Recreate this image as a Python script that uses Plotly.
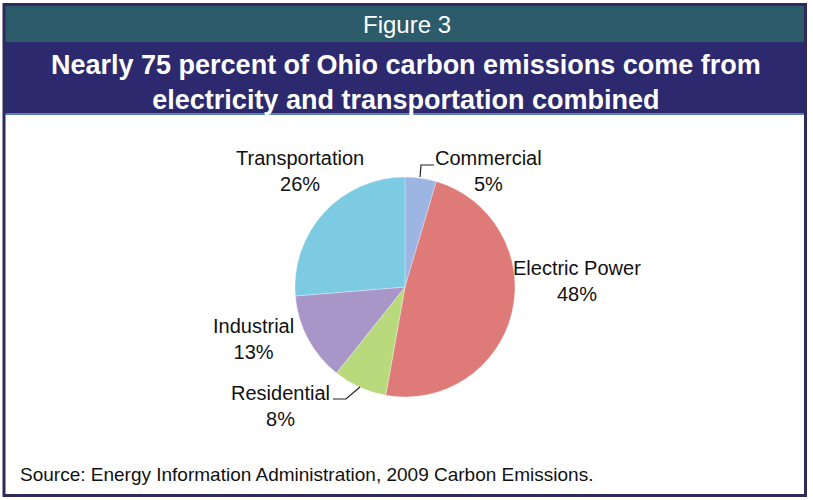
import plotly.graph_objects as go

W, H = 813, 500

categories = ["Commercial", "Electric Power", "Residential", "Industrial", "Transportation"]
values = [4.6, 48.2, 7.9, 13.0, 26.3]
colors = ["#9db5e2", "#de7b78", "#b9da7c", "#a996c9", "#7ccbe2"]

# label anchor positions (pixels) for the annotations
label_pos = {
    "Commercial": (489, 171),
    "Electric Power": (577, 281),
    "Residential": (280, 406),
    "Industrial": (253, 339),
    "Transportation": (300, 171),
}

title_fig = "Figure 3"
title_main = "Nearly 75 percent of Ohio carbon emissions come from<br>electricity and transportation combined"
source_text = "Source: Energy Information Administration, 2009 Carbon Emissions."

def px(x):
    return x / W

def py(y):
    return 1 - y / H

cx, cy, r = 405, 287, 110

fig = go.Figure()
fig.add_trace(go.Pie(
    labels=categories,
    values=values,
    sort=False,
    direction="clockwise",
    rotation=0,
    marker=dict(colors=colors, line=dict(color="rgba(255,255,255,0.6)", width=0.5)),
    textinfo="none",
    hoverinfo="label+percent",
    showlegend=False,
    domain=dict(x=[px(cx - r), px(cx + r)], y=[py(cy + r), py(cy - r)]),
))

shapes = [
    dict(type="rect", xref="paper", yref="paper", x0=px(3), x1=px(806), y0=py(42), y1=py(5),
         fillcolor="#2c5b69", line=dict(width=0), layer="below"),
    dict(type="rect", xref="paper", yref="paper", x0=px(3), x1=px(806), y0=py(113), y1=py(42),
         fillcolor="#2c296e", line=dict(width=0), layer="below"),
    dict(type="line", xref="paper", yref="paper", x0=px(3), x1=px(806), y0=py(114), y1=py(114),
         line=dict(color="#5a7fb5", width=2)),
    dict(type="rect", xref="paper", yref="paper", x0=px(4), x1=px(805.5), y0=py(495.5), y1=py(4.5),
         line=dict(color="#2e2a5c", width=3), fillcolor="rgba(0,0,0,0)"),
    dict(type="path", xref="paper", yref="paper",
         path=f"M {px(420)} {py(177)} L {px(421)} {py(165)} L {px(434)} {py(165)}",
         line=dict(color="#222", width=1.2)),
    dict(type="path", xref="paper", yref="paper",
         path=f"M {px(333)} {py(399)} L {px(346)} {py(399)} L {px(360)} {py(387)}",
         line=dict(color="#222", width=1.2)),
]

annotations = [
    dict(text=title_fig, x=px(407), y=py(24), xref="paper", yref="paper", showarrow=False,
         font=dict(family="Liberation Sans, Arial", size=24, color="white"), xanchor="center", yanchor="middle"),
    dict(text="<b>" + title_main.replace("<br>", "</b><br><b>") + "</b>", x=px(406), y=py(82),
         xref="paper", yref="paper", showarrow=False,
         font=dict(family="Liberation Sans, Arial", size=27, color="white"),
         xanchor="center", yanchor="middle"),
    dict(text=source_text, x=px(18), y=py(474), xref="paper", yref="paper", showarrow=False,
         font=dict(family="Liberation Sans, Arial", size=19, color="#111"), xanchor="left", yanchor="middle"),
]

total = sum(values)
for cat, v in zip(categories, values):
    lx, ly = label_pos[cat]
    annotations.append(dict(
        text=f"{cat}<br>{round(v / total * 100)}%",
        x=px(lx), y=py(ly), xref="paper", yref="paper", showarrow=False,
        font=dict(family="Liberation Sans, Arial", size=20, color="#111"),
        xanchor="center", yanchor="middle", align="center",
    ))

fig.update_layout(
    width=W, height=H,
    margin=dict(l=0, r=0, t=0, b=0),
    paper_bgcolor="white",
    plot_bgcolor="white",
    shapes=shapes,
    annotations=annotations,
)

fig.write_html("out.html")
